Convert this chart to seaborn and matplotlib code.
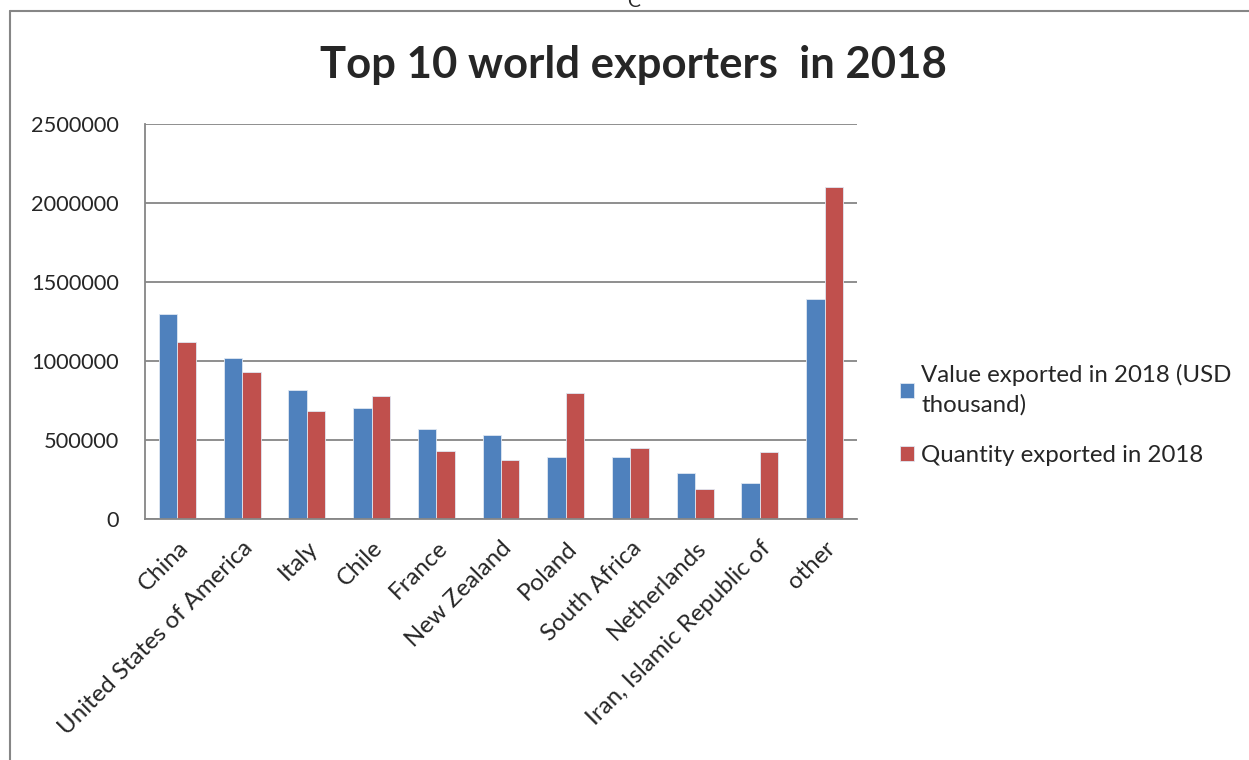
import matplotlib.pyplot as plt
import matplotlib.ticker as mticker
from matplotlib.lines import Line2D
import pandas as pd
import seaborn as sns

countries = ["China", "United States of America", "Italy", "Chile", "France",
             "New Zealand", "Poland", "South Africa", "Netherlands",
             "Iran, Islamic Republic of", "other"]
value_exported = [1300000, 1017000, 816000, 702000, 572000, 530000,
                  390000, 390000, 289000, 230000, 1394000]
quantity_exported = [1120000, 930000, 685000, 778000, 430000, 371000,
                     795000, 447000, 192000, 422000, 2103000]
series_names = ["Value exported in 2018 (USD\nthousand)", "Quantity exported in 2018"]
yticks = [0, 500000, 1000000, 1500000, 2000000, 2500000]

sns.set_style("white")
plt.rcParams['font.family'] = ['Lato', 'DejaVu Sans']

df = pd.DataFrame({
    'Country': countries * 2,
    'Amount': value_exported + quantity_exported,
    'Series': [series_names[0]] * len(countries) + [series_names[1]] * len(countries),
})

fig = plt.figure(figsize=(12.49, 7.6), dpi=100)
ax = fig.add_axes([0.1161, 0.3171, 0.5700, 0.5197])

sns.barplot(data=df, x='Country', y='Amount', hue='Series', ax=ax,
            palette=['#4F81BD', '#C0504D'], saturation=1, width=0.57,
            edgecolor='#dfe7f2', linewidth=0.6)

ax.set_ylim(0, 2500000)
ax.set_yticks(yticks)
ax.yaxis.set_major_formatter(mticker.FuncFormatter(lambda v, p: '%d' % v))
ax.set_xlim(-0.5, len(countries) - 0.5)
ax.grid(axis='y', color='#868686', linewidth=1.3)
ax.set_axisbelow(True)
for s in ['top', 'right']:
    ax.spines[s].set_visible(False)
for s in ['left', 'bottom']:
    ax.spines[s].set_color('#868686')
    ax.spines[s].set_linewidth(1.3)
ax.tick_params(axis='y', length=0, labelsize=15.7, pad=19)
ax.tick_params(axis='x', length=0, labelsize=17.3, pad=13)
ax.set_xticks(range(len(countries)))
ax.set_xticklabels(countries, rotation=45, ha='right', rotation_mode='anchor')
ax.set_xlabel('')
ax.set_ylabel('')

handles, labels = ax.get_legend_handles_labels()
leg = ax.legend(handles, labels, loc='upper left', bbox_to_anchor=(0.703, 0.549),
                bbox_transform=fig.transFigure, frameon=False, fontsize=17.3,
                handlelength=0.6, handleheight=0.6, handletextpad=0.3,
                labelspacing=1.2)
for t in leg.get_texts():
    t.set_linespacing(1.45)

fig.text(0.507, 0.915, "Top 10 world exporters  in 2018", ha='center', va='center',
         fontsize=31.4, fontweight='bold')
fig.text(0.507, 0.998, "C", ha='center', va='center', fontsize=14)

# chart border (top and left edges visible)
fig.add_artist(Line2D([0.008, 1.0], [0.9855, 0.9855], transform=fig.transFigure,
                      color='#868686', linewidth=1.5))
fig.add_artist(Line2D([0.008, 0.008], [0.0, 0.9855], transform=fig.transFigure,
                      color='#868686', linewidth=1.5))

plt.savefig("out.png", dpi=100)
